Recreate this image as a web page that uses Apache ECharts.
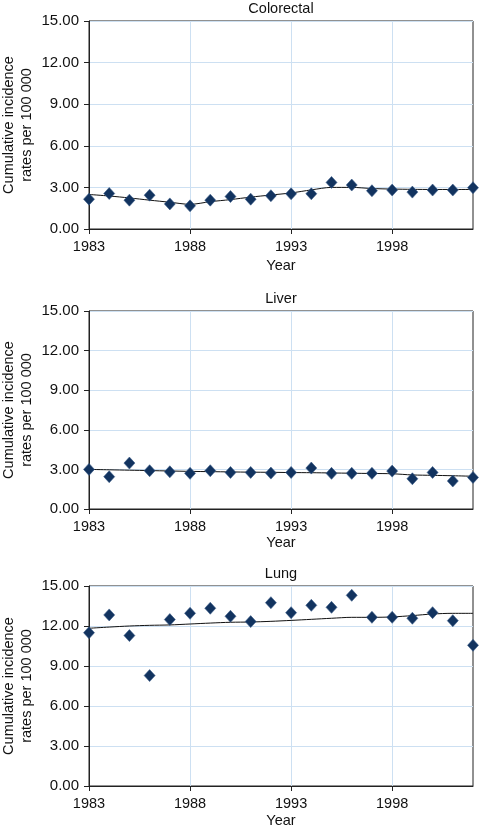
<!DOCTYPE html>
<html>
<head>
<meta charset="utf-8">
<script src="https://cdn.jsdelivr.net/npm/echarts@6/dist/echarts.min.js"></script>
<style>
html,body{margin:0;padding:0;background:#fff;}
#chart{width:479px;height:829px;}
</style>
</head>
<body>
<div id="chart"></div>
<script>
var years = [1983,1984,1985,1986,1987,1988,1989,1990,1991,1992,1993,1994,1995,1996,1997,1998,1999,2000,2001,2002];
var panelTitles = ['Colorectal','Liver','Lung'];
var xTickYears = [1983,1988,1993,1998];
var yAxisLabel = 'Cumulative incidence\nrates per 100 000';
var xAxisLabel = 'Year';

var colorectalObs = [2.15,2.56,2.08,2.44,1.81,1.67,2.08,2.34,2.15,2.40,2.54,2.54,3.36,3.17,2.76,2.81,2.66,2.81,2.81,2.98];
var colorectalTrend = [2.49,2.38,2.24,2.08,1.93,1.78,1.97,2.12,2.30,2.45,2.60,2.82,3.00,3.00,2.92,2.88,2.86,2.85,2.85,2.85];
var liverObs = [3.00,2.45,3.48,2.90,2.82,2.70,2.90,2.77,2.77,2.72,2.77,3.10,2.70,2.70,2.70,2.87,2.29,2.77,2.12,2.39];
var liverTrend = [3.00,2.97,2.94,2.91,2.88,2.85,2.83,2.81,2.79,2.78,2.76,2.75,2.73,2.71,2.69,2.67,2.58,2.55,2.52,2.48];
var lungObs = [11.50,12.83,11.28,8.28,12.48,12.95,13.33,12.73,12.33,13.75,13.00,13.55,13.40,14.30,12.65,12.65,12.58,13.00,12.40,10.55];
var lungTrend = [11.83,11.92,12.00,12.05,12.08,12.15,12.22,12.28,12.30,12.35,12.42,12.50,12.58,12.65,12.65,12.68,12.78,12.90,12.95,12.95];

var obsSets = [colorectalObs, liverObs, lungObs];
var trendSets = [colorectalTrend, liverTrend, lungTrend];

var FONT = '"Liberation Sans", Arial, Helvetica, sans-serif';
var gridsLayout = [
  {top: 21, height: 208, titleTop: 1, nameGap: 29, labelMargin: 10},
  {top: 311, height: 198, titleTop: 291, nameGap: 26, labelMargin: 10},
  {top: 586, height: 200, titleTop: 566, nameGap: 27, labelMargin: 10}
];
var gridColor = '#cde0f2';
var markColor = '#12335f';

function zip(xs, ys){ return xs.map(function(x,i){ return [x, ys[i]]; }); }

var option = {
  animation: false,
  backgroundColor: '#fff',
  textStyle: {fontFamily: FONT, color: '#111'},
  title: [], grid: [], xAxis: [], yAxis: [], series: []
};

gridsLayout.forEach(function(g, i){
  option.title.push({
    text: panelTitles[i], left: 281, top: g.titleTop, textAlign: 'center', padding: 0,
    textStyle: {fontFamily: FONT, fontSize: 14.5, fontWeight: 'normal', color: '#111'}
  });
  option.grid.push({
    left: 89, right: 6, top: g.top, height: g.height,
    outerBoundsMode: 'none', containLabel: false,
    show: true, borderColor: '#222', borderWidth: 1, backgroundColor: 'transparent'
  });
  option.xAxis.push({
    type: 'value', gridIndex: i, min: 1983, max: 2002,
    name: xAxisLabel, nameLocation: 'middle', nameGap: g.nameGap, nameMoveOverlap: false,
    nameTextStyle: {fontFamily: FONT, fontSize: 14.5, color: '#111'},
    axisLine: {show: true, lineStyle: {color: '#222', width: 1}},
    axisTick: {show: true, length: 5, inside: false, customValues: xTickYears, lineStyle: {color: '#222'}},
    axisLabel: {customValues: xTickYears, margin: g.labelMargin, fontFamily: FONT, fontSize: 14.5, color: '#111',
      formatter: function(v){ return String(v); }},
    splitLine: {show: true, lineStyle: {color: gridColor, width: 1}}
  });
  option.yAxis.push({
    type: 'value', gridIndex: i, min: 0, max: 15, interval: 3,
    name: yAxisLabel, nameLocation: 'middle', nameRotate: 90, nameGap: 53, nameMoveOverlap: false,
    nameTextStyle: {fontFamily: FONT, fontSize: 14.5, color: '#111', lineHeight: 18, align: 'center'},
    axisLine: {show: true, lineStyle: {color: '#222', width: 1}},
    axisTick: {show: true, length: 5, inside: false, lineStyle: {color: '#222'}},
    axisLabel: {margin: 10, fontFamily: FONT, fontSize: 15, color: '#111',
      formatter: function(v){ return v.toFixed(2); }},
    splitLine: {show: true, lineStyle: {color: gridColor, width: 1}}
  });
  option.series.push({
    type: 'line', xAxisIndex: i, yAxisIndex: i, data: zip(years, trendSets[i]),
    showSymbol: false, smooth: 0.3, lineStyle: {color: '#111', width: 1}, z: 2
  });
  option.series.push({
    type: 'scatter', xAxisIndex: i, yAxisIndex: i, data: zip(years, obsSets[i]),
    symbol: 'diamond', symbolSize: [11, 12],
    itemStyle: {color: markColor, opacity: 1, borderColor: '#3b5d88', borderWidth: 0.6}, z: 3
  });
});

var chart = echarts.init(document.getElementById('chart'), null, {renderer: 'canvas'});
chart.setOption(option);
</script>
</body>
</html>
